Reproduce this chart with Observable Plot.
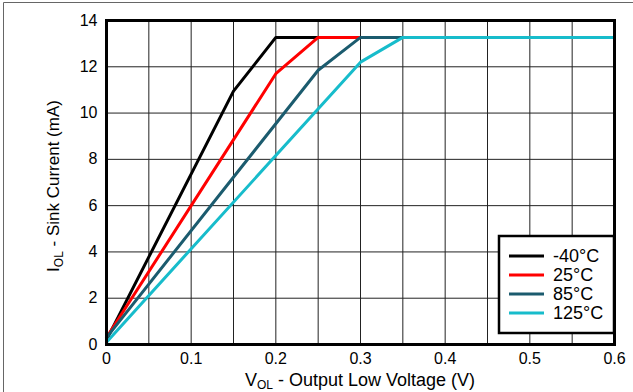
<!DOCTYPE html>
<html>
<head>
<meta charset="utf-8">
<script src="https://cdn.jsdelivr.net/npm/d3@7"></script>
<script src="https://cdn.jsdelivr.net/npm/@observablehq/plot@0.6"></script>
<style>
  body { margin: 0; background: #fff; }
  #chart svg { display: block; }
</style>
</head>
<body>
<div id="chart"></div>
<script>
// Sink current vs. output low voltage at four temperatures
const temps = ["-40°C", "25°C", "85°C", "125°C"];
const colors = ["#000000", "#ff0000", "#1b5b6e", "#17bccb"];

const volM40 = [0, 0.15, 0.2, 0.6];
const iolM40 = [0.2, 10.95, 13.27, 13.27];
const vol25 = [0, 0.2, 0.25, 0.6];
const iol25 = [0.3, 11.7, 13.27, 13.27];
const vol85 = [0, 0.25, 0.3, 0.6];
const iol85 = [0.3, 11.85, 13.27, 13.27];
const vol125 = [0, 0.3, 0.35, 0.6];
const iol125 = [0.1, 12.2, 13.27, 13.27];

const xTicks = [0, 0.1, 0.2, 0.3, 0.4, 0.5, 0.6];
const xGrid = [0.05, 0.1, 0.15, 0.2, 0.25, 0.3, 0.35, 0.4, 0.45, 0.5, 0.55];
const yTicks = [0, 2, 4, 6, 8, 10, 12, 14];

const series = [
  [volM40, iolM40], [vol25, iol25], [vol85, iol85], [vol125, iol125]
];
const rows = series.flatMap(([vs, is], k) =>
  vs.map((v, j) => ({ temp: temps[k], v, i: is[j] })));

const W = 633, H = 392;
const mL = 106, mR = 19, mT = 20, mB = 48;
const font = "'Liberation Sans', Arial, sans-serif";

const plot = Plot.plot({
  width: W,
  height: H,
  marginLeft: mL,
  marginRight: mR,
  marginTop: mT,
  marginBottom: mB,
  style: { fontFamily: font, color: "#000", background: "#fff" },
  x: { domain: [0, 0.6], label: null, axis: null },
  y: { domain: [0, 14], label: null, axis: null },
  color: { domain: temps, range: colors },
  marks: [
    Plot.gridX(xGrid, { stroke: "#222", strokeOpacity: 1, strokeWidth: 1 }),
    Plot.gridY(yTicks, { stroke: "#222", strokeOpacity: 1, strokeWidth: 1 }),
    // tick labels
    Plot.text(xTicks, { x: d => d, frameAnchor: "bottom", dy: 19, text: d => String(d), fontSize: 16, fill: "#000" }),
    Plot.text(yTicks, { y: d => d, frameAnchor: "left", dx: -9, textAnchor: "end", text: d => String(d), fontSize: 16, fill: "#000" }),
    Plot.line(rows, { x: "v", y: "i", z: "temp", stroke: "temp", strokeWidth: 3, strokeLinejoin: "miter" }),
    Plot.frame({ stroke: "#000", strokeWidth: 3 })
  ]
});

document.getElementById("chart").appendChild(plot);

const svg = d3.select(plot);

// outer panel edges
svg.append("line").attr("x1", 3.5).attr("x2", W).attr("y1", 2.5).attr("y2", 2.5)
  .attr("stroke", "#666").attr("stroke-width", 1);
svg.append("line").attr("x1", 3.5).attr("x2", 3.5).attr("y1", 2.5).attr("y2", H)
  .attr("stroke", "#666").attr("stroke-width", 1);

// axis titles with subscripts
const xt = svg.append("text")
  .attr("x", mL + (W - mL - mR) / 2).attr("y", 386)
  .attr("text-anchor", "middle")
  .attr("font-family", font).attr("font-size", 18).attr("fill", "#000");
xt.append("tspan").text("V");
xt.append("tspan").attr("font-size", 12).attr("dy", 3).text("OL");
xt.append("tspan").attr("dy", -3).text(" - Output Low Voltage (V)");

const yt = svg.append("text")
  .attr("transform", `translate(59,${mT + (H - mT - mB) / 2 + 4}) rotate(-90)`)
  .attr("text-anchor", "middle")
  .attr("font-family", font).attr("font-size", 17).attr("fill", "#000");
yt.append("tspan").text("I");
yt.append("tspan").attr("font-size", 12).attr("dy", 4).text("OL");
yt.append("tspan").attr("dy", -4).text(" - Sink Current (mA)");

// legend box in the lower right corner
const lgX = 499, lgY = 236, lgW = W - mR - lgX, lgH = 97;
const lg = svg.append("g");
lg.append("rect").attr("x", lgX).attr("y", lgY).attr("width", lgW).attr("height", lgH)
  .attr("fill", "#fff").attr("stroke", "#000").attr("stroke-width", 2.5);
temps.forEach((t, k) => {
  const cy = 256 + k * 19;
  lg.append("line").attr("x1", 509).attr("x2", 544).attr("y1", cy).attr("y2", cy)
    .attr("stroke", colors[k]).attr("stroke-width", 3);
  lg.append("text").attr("x", 553).attr("y", cy).attr("dy", "0.35em")
    .attr("text-anchor", "start")
    .attr("font-family", font).attr("font-size", 18).attr("fill", "#000").text(t);
});
</script>
</body>
</html>
